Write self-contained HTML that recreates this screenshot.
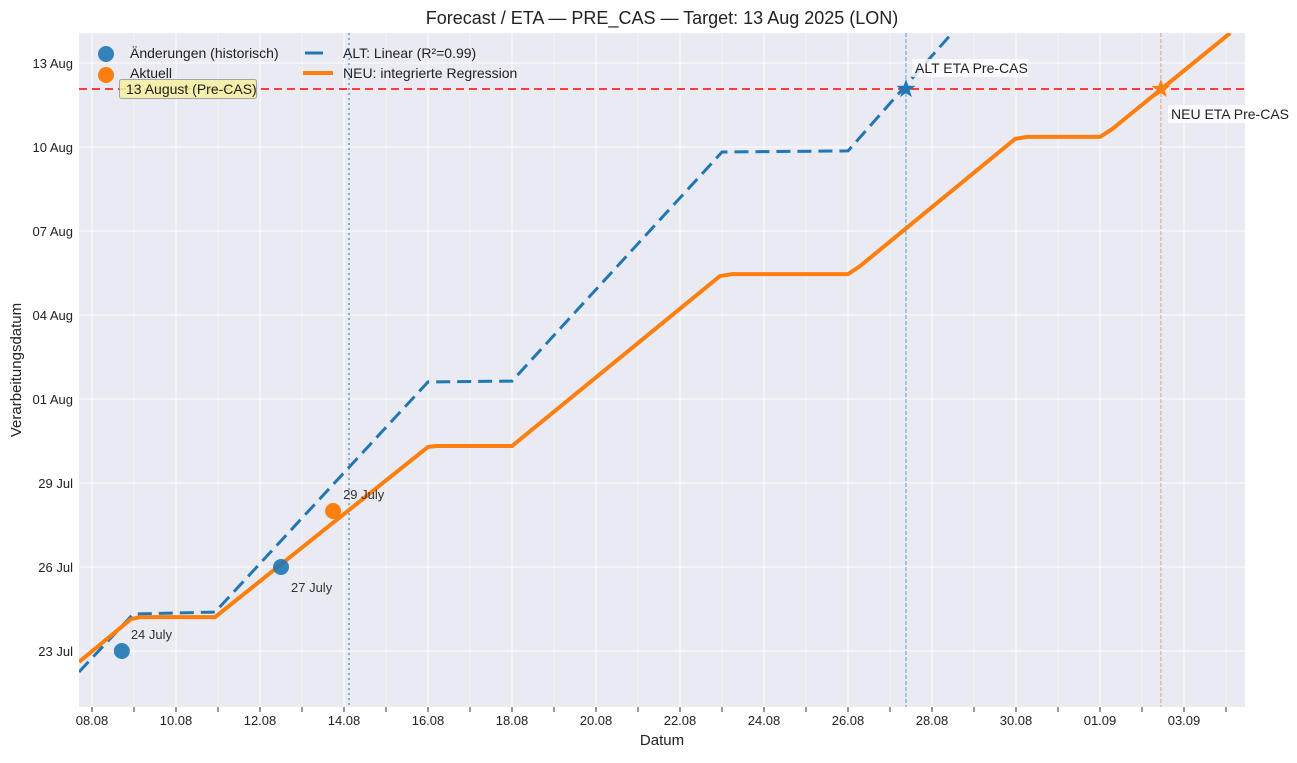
<!DOCTYPE html>
<html><head><meta charset="utf-8"><style>
body{margin:0;background:#fff;font-family:"Liberation Sans",sans-serif}
svg text{font-family:"Liberation Sans",sans-serif}
</style></head><body>
<svg id="c" width="1297" height="758" xmlns="http://www.w3.org/2000/svg"></svg>
<script>
// data (x = days since 08.08, y = days since 23 Jul)
const xTickLabels=["08.08","10.08","12.08","14.08","16.08","18.08","20.08","22.08","24.08","26.08","28.08","30.08","01.09","03.09"];
const yTickLabels=["23 Jul","26 Jul","29 Jul","01 Aug","04 Aug","07 Aug","10 Aug","13 Aug"];
const altX=[-0.31,0.98,2.93,8.0,10.0,15.0,18.0,20.48];
const altY=[-0.75,1.32,1.39,9.61,9.64,17.82,17.86,22.07];
const neuX=[-0.31,0.93,1.14,2.93,8.0,8.21,10,14.95,15.24,18,18.29,21.98,22.26,24,24.29,27.1];
const neuY=[-0.39,1.14,1.21,1.21,7.29,7.32,7.32,13.39,13.46,13.46,13.75,18.29,18.36,18.36,18.64,22.07];
const histX=[0.71,4.5], histY=[0,3.0], histLabels=["24 July","27 July"];
const curX=[5.74], curY=[5.0], curLabels=["29 July"];
const targetY=20.07;
const todayX=6.12, altEtaX=19.38, neuEtaX=25.45;

const L=79,R=1245,T=33,B=707;
const X=d=>92+d*42, Y=d=>651-d*28;
const svg=document.getElementById('c');
const NS="http://www.w3.org/2000/svg";
function el(tag,attrs,parent,name,inter){const e=document.createElementNS(NS,tag);for(const k in attrs)e.setAttribute(k,attrs[k]);


(parent||svg).appendChild(e);return e;}
function txt(s,attrs,name){const t=el('text',attrs,svg,name,false);t.textContent=s;return t;}
el('rect',{x:L,y:T,width:R-L,height:B-T,fill:'#eaeaf2'},svg,'plot-background');
const defs=el('clipPath',{id:'clip'},svg,'clip',false);el('rect',{x:L,y:T,width:R-L,height:B-T},defs,'clip-rect');
// grid + ticks
for(let i=-1;i<=27;i++){const x=X(i);if(x<L||x>R)continue;
 el('line',{x1:x,x2:x,y1:T,y2:B,stroke:'#fff','stroke-width':i%2==0?1:0.6,opacity:i%2==0?1:0.6},svg,'x-grid-line');
 el('line',{x1:x,x2:x,y1:B,y2:B+5,stroke:'#333','stroke-width':1},svg,'x-tick');}
xTickLabels.forEach((s,i)=>txt(s,{x:X(i*2),y:725,'font-size':13,'text-anchor':'middle',fill:'#222'},'x-tick-label'));
yTickLabels.forEach((s,i)=>{const y=Y(i*3);el('line',{x1:L,x2:R,y1:y,y2:y,stroke:'#fff'},svg,'y-grid-line');
 txt(s,{x:73,y:y+5,'font-size':13,'text-anchor':'end',fill:'#222'},'y-tick-label');});
const g=el('g',{'clip-path':'url(#clip)'},svg,'plot-series');
el('line',{x1:L,x2:R,y1:Y(targetY),y2:Y(targetY),stroke:'#ff3b3b','stroke-width':2,'stroke-dasharray':'8,5'},g,'target-line');
el('line',{x1:X(todayX),x2:X(todayX),y1:T,y2:B,stroke:'#4a8fd0','stroke-width':1.3,'stroke-dasharray':'2,3'},g,'today-line');
el('line',{x1:X(altEtaX),x2:X(altEtaX),y1:T,y2:B,stroke:'#5ba0d8','stroke-width':1,'stroke-dasharray':'4,2'},g,'alt-eta-line');
el('line',{x1:X(neuEtaX),x2:X(neuEtaX),y1:T,y2:B,stroke:'#e0a080','stroke-width':1,'stroke-dasharray':'4,2'},g,'neu-eta-line');
const pts=(xs,ys)=>xs.map((v,i)=>X(v)+','+Y(ys[i])).join(' ');
el('polyline',{points:pts(altX,altY),fill:'none',stroke:'#1f77b4','stroke-width':3,'stroke-dasharray':'14,7'},g,'alt-linear-line');
el('polyline',{points:pts(neuX,neuY),fill:'none',stroke:'#ff7f0e','stroke-width':4},g,'neu-regression-line');
histX.forEach((v,i)=>{el('circle',{cx:X(v),cy:Y(histY[i]),r:8,fill:'#1f77b4',opacity:0.9},g,'historic-point',true);});
curX.forEach((v,i)=>el('circle',{cx:X(v),cy:Y(curY[i]),r:8,fill:'#ff7f0e'},g,'current-point',true));
txt(histLabels[0],{x:X(histX[0])+9,y:Y(histY[0])-12,'font-size':13,fill:'#333'},'point-label');
txt(histLabels[1],{x:X(histX[1])+10,y:Y(histY[1])+25,'font-size':13,fill:'#333'},'point-label');
txt(curLabels[0],{x:X(curX[0])+10,y:Y(curY[0])-12,'font-size':13,fill:'#333'},'point-label');
function star(cx,cy,r,fill,name){let p=[];for(let i=0;i<10;i++){const a=-Math.PI/2+i*Math.PI/5,rr=i%2?r*0.4:r;p.push((cx+rr*Math.cos(a)).toFixed(1)+','+(cy+rr*Math.sin(a)).toFixed(1));}
 el('polygon',{points:p.join(' '),fill:fill},svg,name,true);}
star(X(altEtaX),Y(targetY),10,'#1f77b4','alt-eta-star');star(X(neuEtaX),Y(targetY),10,'#ff7f0e','neu-eta-star');
el('rect',{x:912,y:59,width:116,height:18,fill:'#fff',opacity:0.8},svg,'alt-eta-label-bg');
txt('ALT ETA Pre-CAS',{x:915,y:73,'font-size':14,fill:'#222'},'alt-eta-label');
el('rect',{x:1168,y:105,width:122,height:18,fill:'#fff',opacity:0.8},svg,'neu-eta-label-bg');
txt('NEU ETA Pre-CAS',{x:1171,y:119,'font-size':14,fill:'#222'},'neu-eta-label');
// legend
el('circle',{cx:106,cy:54,r:8,fill:'#1f77b4',opacity:0.9},svg,'legend-hist-marker');
txt('Änderungen (historisch)',{x:130,y:58,'font-size':14,fill:'#222'},'legend-hist-label');
el('circle',{cx:106,cy:75,r:8,fill:'#ff7f0e'},svg,'legend-current-marker');
txt('Aktuell',{x:130,y:78,'font-size':14,fill:'#222'},'legend-current-label');
el('line',{x1:305,x2:323,y1:53,y2:53,stroke:'#1f77b4','stroke-width':3},svg,'legend-alt-marker');
txt('ALT: Linear (R²=0.99)',{x:343,y:58,'font-size':14,fill:'#222'},'legend-alt-label');
el('line',{x1:303,x2:333,y1:73,y2:73,stroke:'#ff7f0e','stroke-width':4},svg,'legend-neu-marker');
txt('NEU: integrierte Regression',{x:343,y:78,'font-size':14,fill:'#222'},'legend-neu-label');
el('rect',{x:119.5,y:79.5,width:137,height:19,rx:2,fill:'#f5f0a0',stroke:'#999',opacity:0.85},svg,'target-label-box');
txt('13 August (Pre-CAS)',{x:126,y:94,'font-size':14,fill:'#222'},'target-label');
txt('Forecast / ETA — PRE_CAS — Target: 13 Aug 2025 (LON)',{x:662,y:24,'font-size':18,'text-anchor':'middle',fill:'#222'},'chart-title');
txt('Datum',{x:662,y:745,'font-size':15,'text-anchor':'middle',fill:'#222'},'x-axis-title');
txt('Verarbeitungsdatum',{x:21,y:370,'font-size':15,'text-anchor':'middle',fill:'#222',transform:'rotate(-90 21 370)'},'y-axis-title');
</script>
</body></html>
